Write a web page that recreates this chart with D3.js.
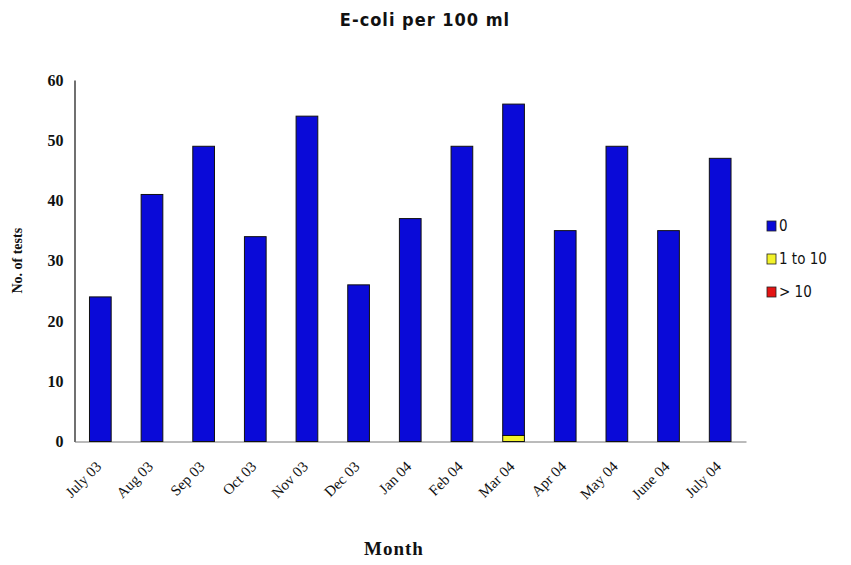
<!DOCTYPE html>
<html>
<head>
<meta charset="utf-8">
<script src="https://cdn.jsdelivr.net/npm/d3@7"></script>
<style>
  body { margin: 0; background: #fff; }
  text { fill: #111; }
</style>
</head>
<body>
<div id="chart"></div>
<script>
// 資料
const months = ["July 03", "Aug 03", "Sep 03", "Oct 03", "Nov 03", "Dec 03", "Jan 04",
                "Feb 04", "Mar 04", "Apr 04", "May 04", "June 04", "July 04"];
const zeroCounts = [24, 41, 49, 34, 54, 26, 37, 49, 55, 35, 49, 35, 47];
const oneToTen   = [0, 0, 0, 0, 0, 0, 0, 0, 1, 0, 0, 0, 0];
const overTen    = [0, 0, 0, 0, 0, 0, 0, 0, 0, 0, 0, 0, 0];
const yTicks = [0, 10, 20, 30, 40, 50, 60];
const seriesNames = ["0", "1 to 10", "> 10"];
const seriesColors = ["#0a0ad8", "#f2f22a", "#e41414"];
const stackOrder = ["1 to 10", "> 10", "0"]; // 黃色在最下面

const W = 851, H = 565;
const plotLeft = 74.5, plotRight = 746, plotTop = 80, plotBottom = 441.5;

const svg = d3.select("#chart")
    .append("svg")
    .attr("width", W)
    .attr("height", H);

const table = months.map((m, i) => ({ month: m, "0": zeroCounts[i], "1 to 10": oneToTen[i], "> 10": overTen[i] }));
const stacked = d3.stack().keys(stackOrder)(table);

const x = d3.scaleBand().domain(months).range([plotLeft, plotRight]).paddingInner(0.58).paddingOuter(0.29);
const y = d3.scaleLinear().domain([0, 60]).range([plotBottom, plotTop]);
const color = d3.scaleOrdinal().domain(seriesNames).range(seriesColors);

// 標題
svg.append("text")
    .attr("x", 425)
    .attr("y", 26)
    .attr("text-anchor", "middle")
    .style("font-family", "'DejaVu Sans Condensed', 'DejaVu Sans', sans-serif")
    .style("font-weight", "bold")
    .style("font-size", "18px")
    .style("letter-spacing", "1px")
    .text("E-coli  per 100 ml");

// Y 軸
const yAxis = svg.append("g")
    .attr("transform", `translate(${plotLeft}, 0)`)
    .call(d3.axisLeft(y).tickValues(yTicks).tickSize(0).tickPadding(11));
yAxis.select(".domain").attr("stroke", "#111").attr("stroke-width", 1.2);
yAxis.selectAll("text")
    .style("font-family", "'Liberation Serif', serif")
    .style("font-size", "16px")
    .style("font-weight", "bold");

svg.append("text")
    .attr("transform", `translate(22, ${(plotTop + plotBottom) / 2}) rotate(-90)`)
    .attr("text-anchor", "middle")
    .style("font-family", "'Liberation Serif', serif")
    .style("font-weight", "bold")
    .style("font-size", "14px")
    .text("No. of tests");

// X 軸
const xAxis = svg.append("g")
    .attr("transform", `translate(0, ${plotBottom})`)
    .call(d3.axisBottom(x).tickSize(0).tickPadding(0));
xAxis.select(".domain").attr("stroke", "#777").attr("stroke-width", 1);
xAxis.selectAll("text")
    .attr("text-anchor", "end")
    .attr("dy", 0)
    .attr("transform", "translate(2, 26) rotate(-45)")
    .style("font-family", "'Liberation Serif', serif")
    .style("font-size", "15px");

svg.append("text")
    .attr("x", 394)
    .attr("y", 555)
    .attr("text-anchor", "middle")
    .style("font-family", "'Liberation Serif', serif")
    .style("font-weight", "bold")
    .style("font-size", "19px")
    .style("letter-spacing", "1px")
    .text("Month");

// 長條
svg.append("g")
    .selectAll("g")
    .data(stacked)
    .join("g")
    .attr("fill", d => color(d.key))
    .selectAll("rect")
    .data(d => d.filter(s => s[1] > s[0]))
    .join("rect")
    .attr("x", d => x(d.data.month))
    .attr("y", d => y(d[1]))
    .attr("width", x.bandwidth())
    .attr("height", d => y(d[0]) - y(d[1]))
    .attr("stroke", "#111")
    .attr("stroke-width", 1);

// 圖例
const legend = svg.append("g").attr("transform", "translate(767, 221)");
const items = legend.selectAll("g")
    .data(seriesNames)
    .join("g")
    .attr("transform", (d, i) => `translate(0, ${i * 33})`);
items.append("rect")
    .attr("width", 9)
    .attr("height", 10)
    .attr("fill", d => color(d))
    .attr("stroke", "#222")
    .attr("stroke-width", 0.8);
items.append("text")
    .attr("x", 12)
    .attr("y", 10)
    .style("font-family", "'DejaVu Sans Condensed', 'DejaVu Sans', sans-serif")
    .style("font-size", "15px")
    .text(d => d);
</script>
</body>
</html>
